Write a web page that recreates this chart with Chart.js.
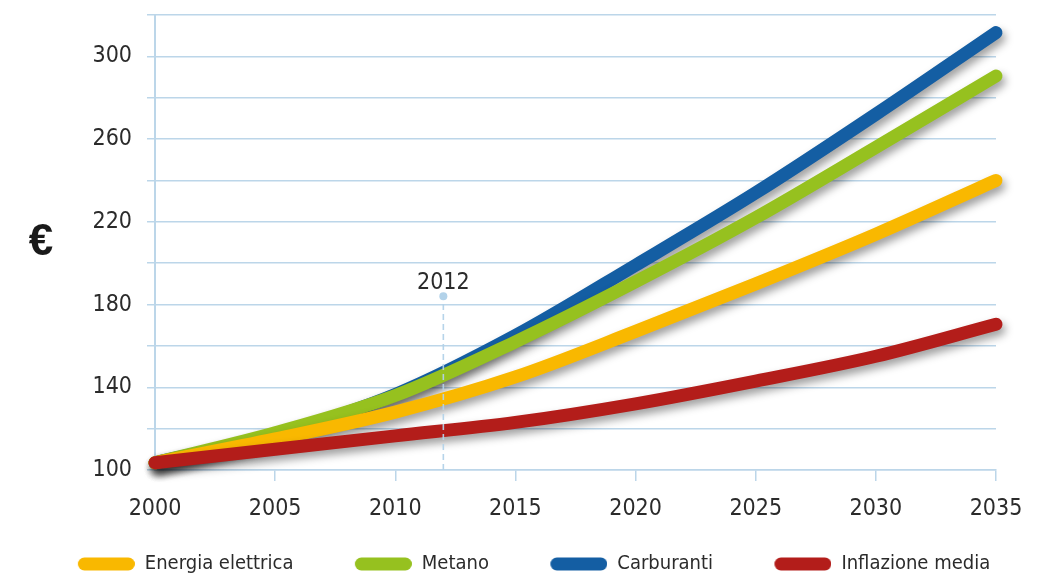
<!DOCTYPE html>
<html>
<head>
<meta charset="utf-8">
<script src="https://cdn.jsdelivr.net/npm/chart.js@4.4.0/dist/chart.umd.min.js"></script>
<style>
html,body{margin:0;padding:0;background:#ffffff;}
#wrap{width:1038px;height:584px;position:relative;}
</style>
</head>
<body>
<div id="wrap"><canvas id="c" width="1038" height="584"></canvas></div>
<script>
// ---- data ----
const years = [2000, 2005, 2010, 2015, 2020, 2025, 2030, 2035];
const energiaElettrica = [103.5, 115, 128, 145, 167, 190, 214, 240];
const metano = [103.5, 118, 136, 162, 191, 222, 256, 290.5];
const carburanti = [103.5, 117, 136.5, 165, 199, 234, 272, 311.5];
const inflazioneMedia = [103.5, 110, 116.5, 123, 132, 143, 155, 170.5];
const seriesLabels = ['Energia elettrica', 'Metano', 'Carburanti', 'Inflazione media'];
const yTickLabels = [100, 140, 180, 220, 260, 300];
const markerYear = 2012;
const markerTop = 184;
const unitLabel = '€';

// ---- styling ----
const FONT = "'Liberation Sans Narrow','DejaVu Sans Condensed','Roboto Condensed','Liberation Sans',sans-serif";
const gridColor = '#bcd6e9';
const textColor = '#2b2b2b';
const colors = ['#f9b800', '#96c11f', '#145ea3', '#b31d1a'];
const BLANK = 30;

function toPoints(arr) { return arr.map((v, i) => ({x: years[i], y: v})); }

function swatch(color) {
  const c = document.createElement('canvas');
  c.width = Math.round(BLANK + 57); c.height = 14;
  const g = c.getContext('2d');
  g.strokeStyle = color; g.lineWidth = 13; g.lineCap = 'round';
  g.beginPath(); g.moveTo(c.width - 57 + 6.5, 7); g.lineTo(c.width - 6.5, 7); g.stroke();
  return c;
}
const swatches = colors.map(swatch);

function lineDs(label, arr, color, order) {
  return {
    label, data: toPoints(arr), borderColor: color, backgroundColor: color,
    borderWidth: 13, borderCapStyle: 'round', borderJoinStyle: 'round',
    pointRadius: 0, pointHoverRadius: 0, cubicInterpolationMode: 'monotone',
    fill: false, order, clip: false
  };
}

const datasets = [
  lineDs(seriesLabels[0], energiaElettrica, colors[0], 2),
  lineDs(seriesLabels[1], metano, colors[1], 3),
  lineDs(seriesLabels[2], carburanti, colors[2], 4),
  lineDs(seriesLabels[3], inflazioneMedia, colors[3], 1),
  {
    label: '', data: [{x: markerYear, y: 100}, {x: markerYear, y: markerTop}],
    borderColor: 'rgba(178,210,233,0.95)', borderWidth: 1.6, borderDash: [6, 4],
    pointRadius: [0, 4], pointBackgroundColor: '#b2d2e9', pointBorderWidth: 0,
    fill: false, order: 0, clip: false, isMarker: true
  }
];

const shadowPlugin = {
  id: 'shadow',
  beforeDatasetDraw(chart, args) {
    const ds = chart.data.datasets[args.index];
    const ctx = chart.ctx;
    ctx.save();
    if (!ds.isMarker) {
      ctx.shadowColor = 'rgba(0,0,0,0.38)';
      ctx.shadowBlur = 8;
      ctx.shadowOffsetX = 3;
      ctx.shadowOffsetY = 5;
    }
  },
  afterDatasetDraw(chart) { chart.ctx.restore(); }
};

const textPlugin = {
  id: 'extraText',
  afterDatasetsDraw(chart) {
    const ctx = chart.ctx, xs = chart.scales.x, ys = chart.scales.y, a = chart.chartArea;
    ctx.save();
    ctx.fillStyle = textColor;
    ctx.font = "23px " + FONT;
    ctx.textAlign = 'center';
    ctx.textBaseline = 'alphabetic';
    ctx.fillText(String(markerYear), xs.getPixelForValue(markerYear), ys.getPixelForValue(markerTop) - 7);
    ctx.font = "bold 44px 'Liberation Sans','DejaVu Sans',sans-serif";
    ctx.fillStyle = '#1a1a1a';
    ctx.textBaseline = 'middle';
    ctx.fillText(unitLabel, a.left - 114, (a.top + a.bottom) / 2);
    ctx.restore();
  }
};

new Chart(document.getElementById('c'), {
  type: 'line',
  data: {datasets},
  plugins: [shadowPlugin, textPlugin],
  options: {
    responsive: false,
    animation: false,
    devicePixelRatio: 1,
    layout: {padding: {top: 15, right: 0, left: 0, bottom: 0}},
    plugins: {
      tooltip: {enabled: false},
      legend: {
        position: 'bottom',
        labels: {
          usePointStyle: true,
          pointStyleWidth: Math.round(BLANK + 57),
          boxHeight: 20,
          padding: 31.4,
          color: textColor,
          font: {family: FONT, size: 20},
          generateLabels(chart) {
            return chart.data.datasets
              .map((ds, i) => ({
                text: ds.label, pointStyle: swatches[i], datasetIndex: i,
                hidden: false, lineWidth: 0, fillStyle: 'transparent',
                strokeStyle: 'transparent', fontColor: textColor
              }))
              .filter(l => l.text);
          }
        }
      }
    },
    scales: {
      x: {
        type: 'linear', min: 2000, max: 2035,
        afterFit(scale) { scale.paddingRight = 42; scale.height = 52.6; },
        grid: {
          drawOnChartArea: false, drawTicks: true, tickLength: 11, lineWidth: 1.5,
          color: c => (c.tick && c.tick.value === 2000) ? 'rgba(0,0,0,0)' : gridColor
        },
        border: {display: true, color: gridColor, width: 1.6},
        ticks: {
          stepSize: 5, padding: 14, color: textColor, maxRotation: 0,
          font: {family: FONT, size: 23},
          callback: v => String(v)
        }
      },
      y: {
        type: 'linear', min: 100, max: 320,
        afterFit(scale) { scale.width = 155; scale.paddingTop = 0; scale.paddingBottom = 0; },
        grid: {color: gridColor, lineWidth: 1.5, tickLength: 8, drawTicks: true},
        border: {display: true, color: gridColor, width: 2},
        ticks: {
          stepSize: 20, padding: 15, color: textColor,
          font: {family: FONT, size: 23},
          callback: v => yTickLabels.includes(v) ? String(v) : ''
        }
      }
    }
  }
});
</script>
</body>
</html>
